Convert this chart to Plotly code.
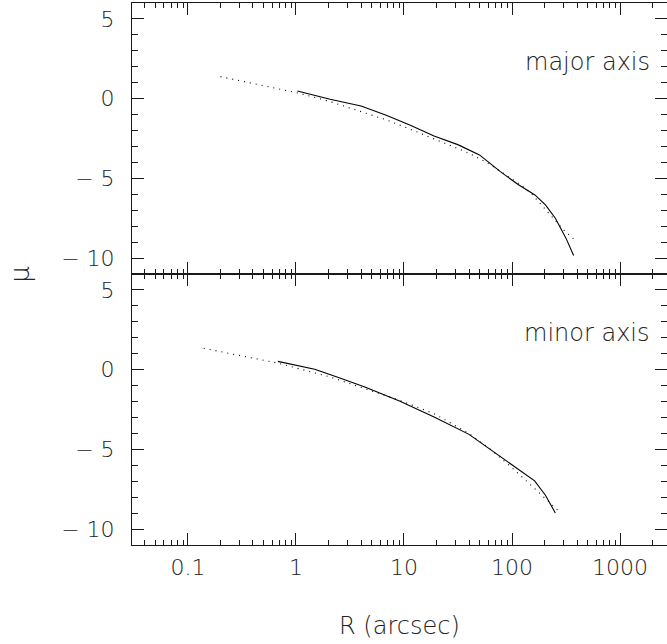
import plotly.graph_objects as go
from plotly.subplots import make_subplots

# Surface-brightness profile along the major axis (observed, solid)
major_r = [1.03, 2.07, 4.0, 6.76, 11.3, 19.0, 31.9, 50.0, 78.0, 113.0, 163.0, 204.0, 252.0, 316.0, 372.0]
major_mu = [0.48, -0.04, -0.46, -1.02, -1.65, -2.34, -2.90, -3.53, -4.58, -5.37, -6.04, -6.66, -7.50, -8.75, -9.84]

# Model profile along the major axis (dotted)
major_fit_r = [0.2, 0.45, 1.0, 2.0, 4.0, 7.0, 13.0, 25.0, 40.0, 60.0, 83.0, 120.0, 150.0, 219.0, 300.0, 380.0]
major_fit_mu = [1.38, 0.88, 0.38, -0.15, -0.81, -1.35, -2.07, -2.85, -3.42, -4.05, -4.68, -5.40, -5.93, -7.19, -8.23, -8.86]

# Surface-brightness profile along the minor axis (observed, solid)
minor_r = [0.68, 1.49, 2.4, 4.34, 9.08, 19.0, 40.0, 72.0, 113.0, 162.0, 204.0, 252.0]
minor_mu = [0.52, 0.02, -0.46, -1.09, -1.97, -2.97, -4.06, -5.27, -6.21, -6.98, -7.88, -8.99]

# Model profile along the minor axis (dotted)
minor_fit_r = [0.14, 0.68, 2.07, 4.34, 9.08, 19.0, 40.0, 62.0, 98.0, 150.0, 204.0, 270.0]
minor_fit_mu = [1.34, 0.41, -0.46, -1.19, -1.92, -2.76, -4.01, -4.95, -6.10, -7.25, -8.09, -8.86]

panel_labels = ["major axis", "minor axis"]
x_major_ticks = [0.1, 1, 10, 100, 1000]
x_tick_text = ["0.1", "1", "10", "100", "1000"]
x_minor_ticks = [m * d for d in [0.01, 0.1, 1, 10, 100, 1000] for m in range(2, 10)]
y_major_ticks = [-10, -5, 0, 5]
y_tick_text = ["\u2212 10", "\u2212 5", "0", "5"]
y_minor_ticks = list(range(-11, 7))

FONT = "DejaVu Sans"
INK = "#1a1a1a"
TEXT = "#222222"

fig = make_subplots(rows=2, cols=1, vertical_spacing=0)

panels = [
    (major_r, major_mu, major_fit_r, major_fit_mu),
    (minor_r, minor_mu, minor_fit_r, minor_fit_mu),
]
for i, (r, mu, fr, fmu) in enumerate(panels, start=1):
    fig.add_trace(go.Scatter(x=fr, y=fmu, mode="lines",
                             line=dict(color="black", width=1.1, dash="1px,5px"),
                             showlegend=False), row=i, col=1)
    fig.add_trace(go.Scatter(x=r, y=mu, mode="lines",
                             line=dict(color="black", width=1.1),
                             showlegend=False), row=i, col=1)

x_common = dict(
    type="log", range=[-1.518, 3.435],
    tickmode="array", tickvals=x_major_ticks, ticktext=x_tick_text,
    ticks="inside", ticklen=12, tickwidth=1, tickcolor=INK,
    minor=dict(tickmode="array", tickvals=x_minor_ticks, ticks="inside",
               ticklen=5, tickwidth=1, tickcolor=INK, showgrid=False),
    showline=True, linecolor=INK, linewidth=1, mirror="allticks",
    showgrid=False, zeroline=False,
    tickfont=dict(family=FONT, size=22, color=TEXT, weight=200),
)
y_common = dict(
    range=[-11, 6],
    tickmode="array", tickvals=y_major_ticks, ticktext=y_tick_text,
    ticks="inside", ticklen=12, tickwidth=1, tickcolor=INK,
    minor=dict(tickmode="array", tickvals=y_minor_ticks, ticks="inside",
               ticklen=6, tickwidth=1, tickcolor=INK, showgrid=False),
    showline=True, linecolor=INK, linewidth=1, mirror="allticks",
    showgrid=False, zeroline=False,
    tickfont=dict(family=FONT, size=22, color=TEXT, weight=200),
    ticklabelstandoff=12,
)

fig.update_xaxes(**x_common)
fig.update_yaxes(**y_common)
fig.update_xaxes(showticklabels=False, row=1, col=1)
fig.update_xaxes(ticklabelstandoff=3, row=2, col=1)

for i, label in enumerate(panel_labels, start=1):
    fig.add_annotation(text=label, xref=f"x{'' if i == 1 else i}", yref=f"y{'' if i == 1 else i}",
                       x=3.297, y=2.3, xanchor="right", yanchor="middle", showarrow=False,
                       font=dict(family=FONT, size=24, color=TEXT, weight=200))

fig.add_annotation(text="R (arcsec)", xref="paper", yref="paper", x=0.5, y=-0.149,
                   xanchor="center", yanchor="middle", showarrow=False,
                   font=dict(family=FONT, size=24, color=TEXT, weight=200))
fig.add_annotation(text="\u03bc", xref="paper", yref="paper", x=-0.21, y=0.5,
                   xanchor="center", yanchor="middle", showarrow=False, textangle=-90,
                   font=dict(family=FONT, size=26, color=TEXT, weight=200))

fig.update_layout(
    width=667, height=644,
    margin=dict(l=132, r=0, t=3, b=99),
    paper_bgcolor="white", plot_bgcolor="white",
)

fig.write_html("out.html")
